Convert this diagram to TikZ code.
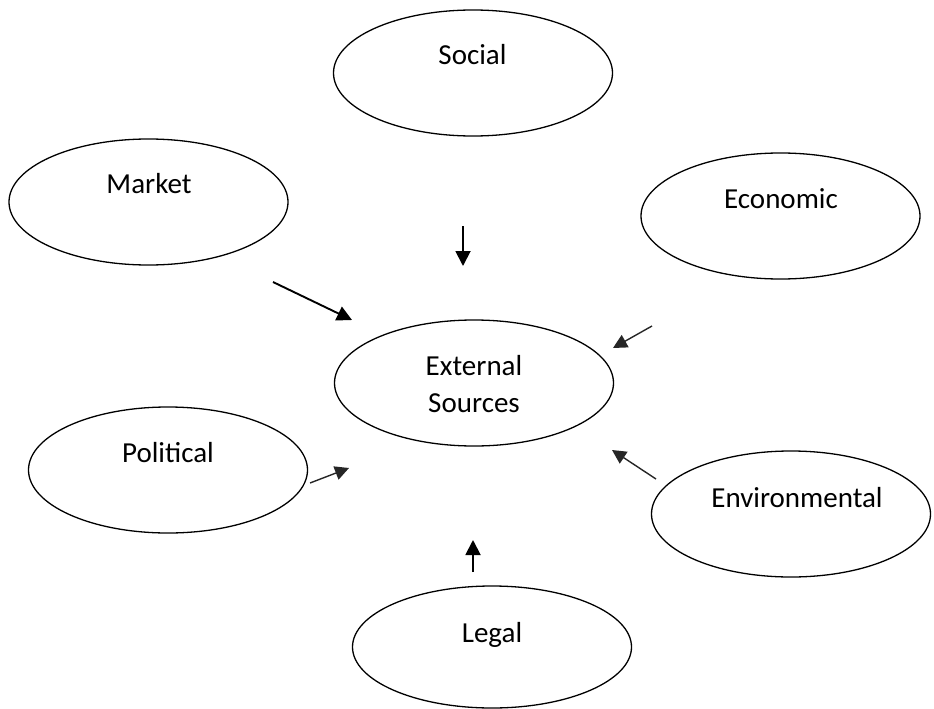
\documentclass[tikz,border=0pt]{standalone}
\usepackage{fontspec}
\setmainfont{Carlito}
\usetikzlibrary{shapes.geometric,arrows.meta}
\begin{document}
\begin{tikzpicture}[x=1pt,y=-1pt,
  ell/.style={draw=black,line width=1.3pt,ellipse,inner sep=0pt,minimum width=279pt,minimum height=126pt},
  lbl/.style={anchor=base,inner sep=0pt,font=\fontsize{29}{35}\selectfont},
  arr/.style={line width=1.9pt,-{Triangle[length=15pt,width=15pt]}},
  arrthin/.style={line width=1.4pt,draw=black!85,-{Triangle[length=14pt,width=14pt]}}]
\useasboundingbox (0,0) rectangle (934,709);
% ellipses
\node[ell] (social) at (473,73) {};
\node[ell] (market) at (148.5,202) {};
\node[ell] (economic) at (780.5,216) {};
\node[ell] (external) at (474,383) {};
\node[ell] (political) at (168,470) {};
\node[ell] (environmental) at (791,514) {};
\node[ell,minimum height=122pt] (legal) at (492,647) {};
% labels
\node[lbl] (socialt) at (472.5,65) {Social};
\node[lbl] (markett) at (149,193) {Market};
\node[lbl] (economict) at (781,208) {Economic};
\node[lbl] (externalt1) at (474,375) {External};
\node[lbl] (externalt2) at (474,412) {Sources};
\node[lbl] (politicalt) at (168,462) {Political};
\node[lbl] (environmentalt) at (797,507) {Environmental};
\node[lbl] (legalt) at (492,642) {Legal};
% arrow ends
\coordinate (s1) at (463,226); \coordinate (s2) at (463,266);
\coordinate (m1) at (273,282); \coordinate (m2) at (352,320);
\coordinate (e1) at (652,326); \coordinate (e2) at (613,348);
\coordinate (p1) at (310,483); \coordinate (p2) at (349,468);
\coordinate (v1) at (656,479); \coordinate (v2) at (612,450);
\coordinate (l1) at (473,572); \coordinate (l2) at (473,540);
\draw[arr] (s1) -- (s2);
\draw[arr] (m1) -- (m2);
\draw[arrthin] (e1) -- (e2);
\draw[arrthin] (p1) -- (p2);
\draw[arrthin] (v1) -- (v2);
\draw[arr] (l1) -- (l2);
\end{tikzpicture}
\end{document}
